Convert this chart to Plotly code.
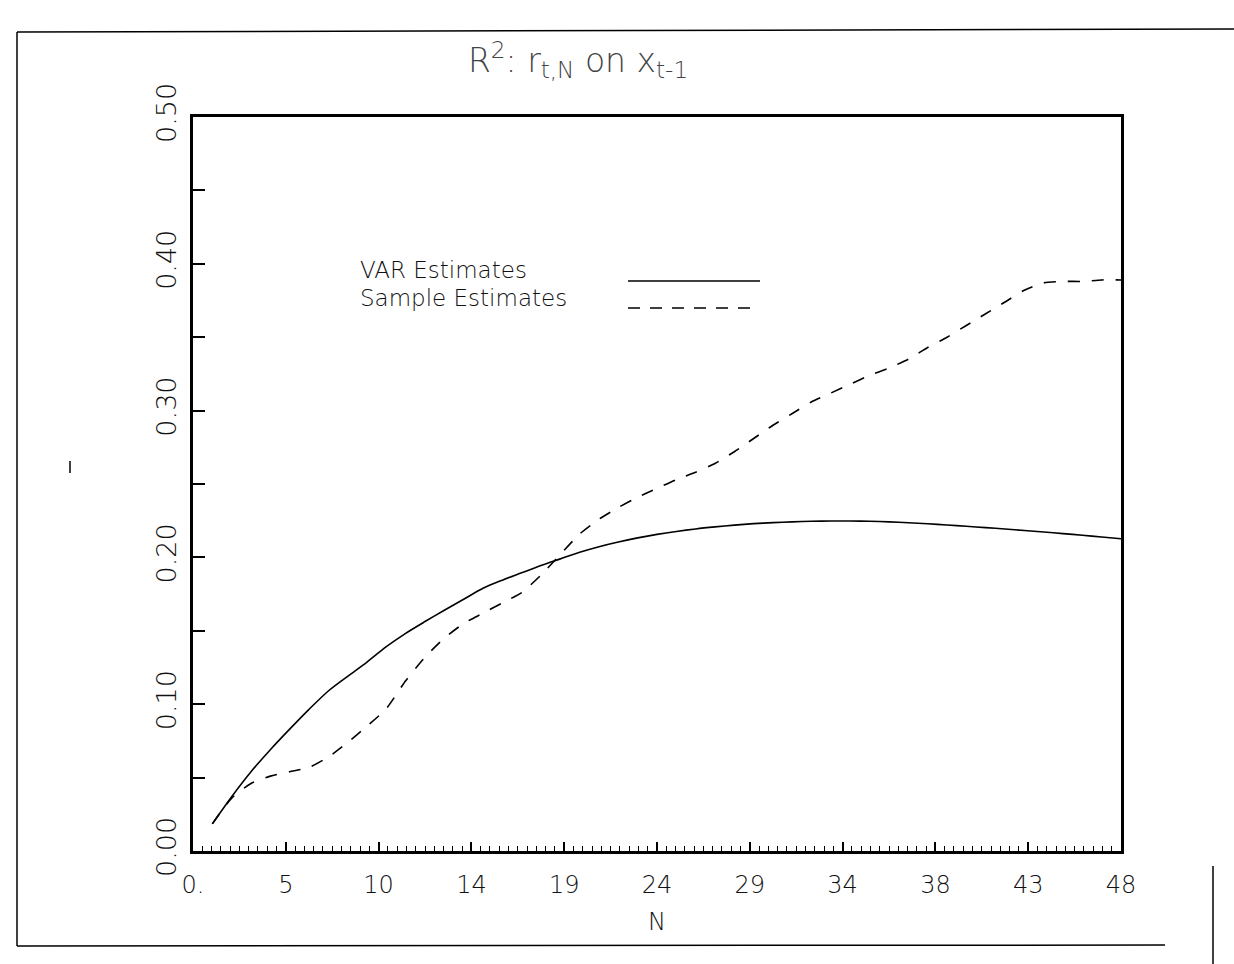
import plotly.graph_objects as go

# ---------------- data ----------------
N = list(range(1, 49))
var_estimates = [0.0185, 0.0370, 0.0540, 0.0690, 0.0830, 0.0965, 0.1090, 0.1190, 0.1287, 0.1392,
                 0.1483, 0.1563, 0.1640, 0.1715, 0.1790, 0.1845, 0.1895, 0.1945, 0.1990, 0.2035,
                 0.2073, 0.2105, 0.2133, 0.2157, 0.2177, 0.2194, 0.2208, 0.2220, 0.2230, 0.2237,
                 0.2242, 0.2246, 0.2248, 0.2248, 0.2246, 0.2242, 0.2236, 0.2229, 0.2221, 0.2212,
                 0.2203, 0.2193, 0.2183, 0.2173, 0.2162, 0.2151, 0.2139, 0.2127]
sample_estimates = [0.0185, 0.036, 0.046, 0.051, 0.054, 0.057, 0.064, 0.074, 0.085, 0.097,
                    0.116, 0.132, 0.145, 0.155, 0.162, 0.169, 0.176, 0.188, 0.202, 0.216,
                    0.226, 0.234, 0.241, 0.247, 0.253, 0.258, 0.264, 0.272, 0.281, 0.290,
                    0.298, 0.306, 0.312, 0.318, 0.324, 0.329, 0.335, 0.343, 0.350, 0.358,
                    0.366, 0.374, 0.382, 0.387, 0.388, 0.388, 0.389, 0.389]

x_tickvals = [0, 4.8, 9.6, 14.4, 19.2, 24, 28.8, 33.6, 38.4, 43.2, 48]
x_ticktext = ["0.", "5", "10", "14", "19", "24", "29", "34", "38", "43", "48"]
y_tickvals = [0.0, 0.1, 0.2, 0.3, 0.4, 0.5]
y_ticktext = ["0.00", "0.10", "0.20", "0.30", "0.40", "0.50"]

series_names = ["VAR Estimates", "Sample Estimates"]

# ---------------- layout geometry (pixels) ----------------
W, H = 1234, 964
L, R, T, B = 193, 1121, 117, 851

def px(x):
    return (x - L) / (R - L)

def py(y):
    return (B - y) / (B - T)

FONT = "DejaVu Sans"
INK = "#111111"

fig = go.Figure()
fig.add_trace(go.Scatter(
    x=N, y=var_estimates, mode="lines", name=series_names[0],
    line=dict(color="black", width=1.6, shape="spline", smoothing=0.8),
    showlegend=False))
fig.add_trace(go.Scatter(
    x=N, y=sample_estimates, mode="lines", name=series_names[1],
    line=dict(color="black", width=1.6, dash="12px,12px", shape="spline", smoothing=0.6),
    showlegend=False))

shapes = []
# legend line samples
shapes.append(dict(type="line", xref="paper", yref="paper",
                   x0=px(628), x1=px(760), y0=py(281), y1=py(281),
                   line=dict(color="black", width=1.6)))
shapes.append(dict(type="line", xref="paper", yref="paper",
                   x0=px(628), x1=px(757), y0=py(308), y1=py(308),
                   line=dict(color="black", width=1.6, dash="12px,10px")))
# scanned page frame lines
frame = [((17, 32), (1234, 29)), ((17, 32), (17, 946)), ((17, 946), (1165, 945)),
         ((1213, 866), (1213, 964)), ((70, 461), (70, 473))]
for (x0, y0), (x1, y1) in frame:
    shapes.append(dict(type="line", xref="paper", yref="paper",
                       x0=px(x0), x1=px(x1), y0=py(y0), y1=py(y1),
                       line=dict(color="black", width=1.5)))

annotations = [
    dict(text=series_names[0], xref="paper", yref="paper", x=px(358), y=py(270),
         xanchor="left", yanchor="middle", showarrow=False,
         font=dict(family=FONT, size=23, color=INK, weight=300)),
    dict(text=series_names[1], xref="paper", yref="paper", x=px(358), y=py(298),
         xanchor="left", yanchor="middle", showarrow=False,
         font=dict(family=FONT, size=23, color=INK, weight=300)),
]

fig.update_layout(
    width=W, height=H,
    margin=dict(l=L, r=W - R, t=T, b=H - B, pad=0),
    paper_bgcolor="white", plot_bgcolor="white",
    title=dict(text="R<sup>2</sup>: r<sub>t,N</sub> on x<sub>t-1</sub>",
               xref="container", yref="container", x=578 / W, y=1 - 60 / H,
               xanchor="center", yanchor="middle",
               font=dict(family=FONT, size=33, color="#444444", weight=300)),
    shapes=shapes, annotations=annotations,
    xaxis=dict(range=[0, 48], tickmode="array", tickvals=x_tickvals, ticktext=x_ticktext,
               ticks="inside", ticklen=9, tickwidth=1.5, tickcolor="black",
               showline=True, linecolor="black", linewidth=2.5, mirror=True,
               showgrid=False, zeroline=False, ticklabelstandoff=10,
               tickfont=dict(family=FONT, size=24, color=INK, weight=300),
               minor=dict(tick0=0, dtick=0.48, ticks="inside", ticklen=5,
                          tickwidth=1.2, tickcolor="black", showgrid=False),
               title=dict(text="N", standoff=16,
                          font=dict(family=FONT, size=24, color=INK, weight=300))),
    yaxis=dict(range=[0, 0.5], tickmode="array", tickvals=y_tickvals, ticktext=y_ticktext,
               tickangle=-90, ticks="inside", ticklen=12, tickwidth=1.5, tickcolor="black",
               showline=True, linecolor="black", linewidth=2.5, mirror=True,
               showgrid=False, zeroline=False, ticklabelstandoff=3,
               tickfont=dict(family=FONT, size=27, color=INK, weight=300),
               minor=dict(tick0=0, dtick=0.05, ticks="inside", ticklen=12,
                          tickwidth=1.5, tickcolor="black", showgrid=False)),
)

fig.write_html("out.html")
